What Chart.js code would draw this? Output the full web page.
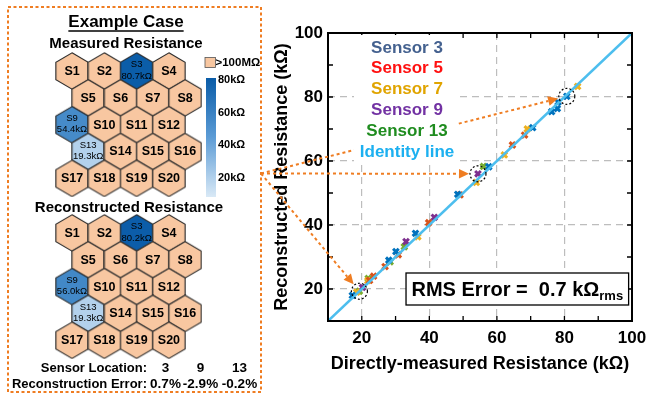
<!DOCTYPE html>
<html>
<head>
<meta charset="utf-8">
<script src="https://cdn.jsdelivr.net/npm/chart.js@4.4.0/dist/chart.umd.min.js"></script>
<style>
  html, body { margin: 0; padding: 0; background: #ffffff; }
  #wrap { position: relative; width: 649px; height: 395px; overflow: hidden; background: #ffffff; }
  #hexBox { position: absolute; left: 0; top: 0; width: 265px; height: 395px; }
  #fitBox { position: absolute; left: 250px; top: 0; width: 399px; height: 395px; }
</style>
</head>
<body>
<div id="wrap">
  <div id="hexBox"><canvas id="hexChart" width="265" height="395"></canvas></div>
  <div id="fitBox"><canvas id="fitChart" width="399" height="395"></canvas></div>
</div>
<script>
const FONT = "'Liberation Sans', Arial, Helvetica, sans-serif";

// ---- Sweep results: directly-measured (x) vs reconstructed (y), kΩ ----
const sensor3X  = [17.2, 28.0, 30.1, 35.9, 48.4, 57.6, 70.6, 76.2, 77.9, 78.1, 80.7];
const sensor3Y  = [18.0, 29.0, 31.7, 37.4, 49.6, 58.2, 70.4, 75.4, 76.4, 78.4, 80.2];
const sensor5X  = [22.3, 23.5, 26.9, 30.8, 39.8, 49.1, 64.6, 68.2];
const sensor5Y  = [22.7, 24.0, 27.0, 30.7, 40.7, 49.4, 65.0, 68.1];
const sensor7X  = [18.5, 21.8, 36.6, 53.9, 62.2, 69.0, 83.9];
const sensor7Y  = [19.0, 22.6, 36.3, 53.3, 61.9, 70.0, 83.3];
const sensor9X  = [20.2, 33.1, 41.5, 54.4];
const sensor9Y  = [20.5, 34.8, 42.4, 56.0];
const sensor13X = [19.3, 21.9, 28.4, 32.6, 56.0];
const sensor13Y = [19.3, 23.3, 28.5, 33.2, 58.3];
const seriesLabels = ['Sensor 3', 'Sensor 5', 'Sensor 7', 'Sensor 9', 'Sensor 13'];
const identityEnds = [10, 100];
const axisRange = [10, 100];
const labelledTicks = [20, 40, 60, 80, 100];
const gridTicks = [20, 40, 60, 80];
const rmsErrorK = 0.7;

// ---- Example case (hexagonal sensor array) ----
const sensorIds = [1, 2, 3, 4, 5, 6, 7, 8, 9, 10, 11, 12, 13, 14, 15, 16, 17, 18, 19, 20];
const exampleSensors = [3, 9, 13];
const measuredK = [80.7, 54.4, 19.3];
const reconstructedK = [80.2, 56.0, 19.3];
const reconErrorText = ['0.7%', '-2.9%', '-0.2%'];
const colorbarTicks = [20, 40, 60, 80];
const colorbarRange = [8, 81];

// ---- Styles ----
const markerColors = ['#0072BD', '#D95319', '#EDB120', '#7E2F8E', '#77AC30'];
const legendTextColors = ['#44618f', '#ff1010', '#e0a400', '#7232a3', '#1f8c1f', '#1cb0f0'];
const identityColor = '#4DBEEE';
const openCellColor = '#f8c7a1';
const accentOrange = '#ef7d22';
const cmapStops = [[8, [217, 233, 246]], [45, [91, 155, 213]], [81, [10, 92, 168]]];

function cmap(v) {
  const s = cmapStops;
  if (v <= s[0][0]) return `rgb(${s[0][1].join(',')})`;
  for (let i = 1; i < s.length; i++) {
    if (v <= s[i][0]) {
      const t = (v - s[i - 1][0]) / (s[i][0] - s[i - 1][0]);
      const c = s[i - 1][1].map((a, k) => Math.round(a + (s[i][1][k] - a) * t));
      return `rgb(${c.join(',')})`;
    }
  }
  return `rgb(${s[s.length - 1][1].join(',')})`;
}

// hexagon sprites used as point styles, one per fill colour
const hexCache = {};
function hexImage(fill) {
  if (hexCache[fill]) return hexCache[fill];
  const c = document.createElement('canvas');
  c.width = 34; c.height = 38;
  const g = c.getContext('2d');
  const cx = 17, cy = 19, hw = 16.15, b = 18.2, a = 8.65;
  g.beginPath();
  g.moveTo(cx, cy - b); g.lineTo(cx + hw, cy - a); g.lineTo(cx + hw, cy + a);
  g.lineTo(cx, cy + b); g.lineTo(cx - hw, cy + a); g.lineTo(cx - hw, cy - a);
  g.closePath();
  g.fillStyle = fill; g.fill();
  g.lineWidth = 1.1; g.strokeStyle = '#2a2a2a'; g.stroke();
  hexCache[fill] = c;
  return c;
}

// staggered 4-wide layout: odd rows shifted half a cell
const perRow = 4;
const rowOf = id => Math.floor((id - 1) / perRow);
const colOf = id => (id - 1) % perRow + (rowOf(id) % 2) * 0.5;
const reconRowShift = 6.03;

function gridData(values, shift) {
  return sensorIds.map(id => {
    const idx = exampleSensors.indexOf(id);
    return { x: colOf(id), y: rowOf(id) + shift, id: id, k: idx >= 0 ? values[idx] : null };
  });
}

const hexLabels = {
  id: 'hexLabels',
  afterDatasetsDraw(chart) {
    const ctx = chart.ctx;
    ctx.save();
    ctx.textAlign = 'center';
    ctx.textBaseline = 'middle';
    ctx.fillStyle = '#000';
    chart.data.datasets.forEach((ds, di) => {
      chart.getDatasetMeta(di).data.forEach((el, i) => {
        const raw = ds.data[i];
        if (raw.k === null) {
          ctx.font = `bold 12.5px ${FONT}`;
          ctx.fillText('S' + raw.id, el.x, el.y + 0.5);
        } else {
          ctx.font = `9.5px ${FONT}`;
          ctx.fillText('S' + raw.id, el.x, el.y - 6.5);
          ctx.fillText(raw.k.toFixed(1) + 'kΩ', el.x, el.y + 5);
        }
      });
    });
    ctx.restore();
  }
};

const panelDecor = {
  id: 'panelDecor',
  beforeDatasetsDraw(chart) {
    const ctx = chart.ctx;
    ctx.save();
    // dotted frame around the example case
    ctx.strokeStyle = accentOrange;
    ctx.lineWidth = 2;
    ctx.setLineDash([3, 2.5]);
    ctx.strokeRect(8, 7, 253, 385);
    ctx.setLineDash([]);
    ctx.fillStyle = '#000';
    ctx.textAlign = 'center';
    ctx.textBaseline = 'middle';
    ctx.font = `bold 17px ${FONT}`;
    ctx.fillText('Example Case', 126, 22);
    const w = ctx.measureText('Example Case').width;
    ctx.lineWidth = 1.6;
    ctx.strokeStyle = '#000';
    ctx.beginPath(); ctx.moveTo(126 - w / 2, 31); ctx.lineTo(126 + w / 2, 31); ctx.stroke();
    ctx.font = `bold 15px ${FONT}`;
    ctx.fillText('Measured Resistance', 126, 44);
    ctx.fillText('Reconstructed Resistance', 129, 208);

    // open-circuit swatch
    ctx.fillStyle = openCellColor;
    ctx.fillRect(205, 57.5, 10.5, 10);
    ctx.strokeStyle = '#555'; ctx.lineWidth = 0.8;
    ctx.strokeRect(205, 57.5, 10.5, 10);
    ctx.fillStyle = '#000';
    ctx.textAlign = 'left';
    ctx.font = `bold 11.5px ${FONT}`;
    ctx.fillText('>100MΩ', 215.5, 63);

    // colour bar
    const top = 78, bot = 197;
    const vToY = v => bot - (v - colorbarRange[0]) / (colorbarRange[1] - colorbarRange[0]) * (bot - top);
    const grad = ctx.createLinearGradient(0, bot, 0, top);
    cmapStops.forEach(s => {
      const t = (s[0] - colorbarRange[0]) / (colorbarRange[1] - colorbarRange[0]);
      grad.addColorStop(Math.min(1, Math.max(0, t)), `rgb(${s[1].join(',')})`);
    });
    ctx.fillStyle = grad;
    ctx.fillRect(206, top, 10, bot - top);
    ctx.fillStyle = '#000';
    ctx.font = `bold 11px ${FONT}`;
    colorbarTicks.forEach(v => ctx.fillText(v + 'kΩ', 218, vToY(v) + 0.5));

    // summary rows
    ctx.font = `bold 13px ${FONT}`;
    ctx.textAlign = 'right';
    ctx.fillText('Sensor Location:', 147, 368);
    ctx.fillText('Reconstruction Error:', 147, 384);
    ctx.textAlign = 'center';
    const cols = [165.5, 200.5, 239.5];
    ctx.font = `bold 13.5px ${FONT}`;
    exampleSensors.forEach((s, i) => ctx.fillText(String(s), cols[i], 368));
    reconErrorText.forEach((t, i) => ctx.fillText(t, cols[i], 384));
    ctx.restore();
  }
};

new Chart(document.getElementById('hexChart'), {
  type: 'scatter',
  data: {
    datasets: [
      { label: 'Measured', data: gridData(measuredK, 0) },
      { label: 'Reconstructed', data: gridData(reconstructedK, reconRowShift) }
    ]
  },
  options: {
    responsive: false,
    animation: false,
    devicePixelRatio: 1,
    events: [],
    layout: { padding: 0, autoPadding: false },
    elements: {
      point: {
        radius: 18,
        hoverRadius: 18,
        pointStyle: ctx => hexImage(ctx.raw && ctx.raw.k !== null ? cmap(ctx.raw.k) : openCellColor)
      }
    },
    plugins: { legend: { display: false }, tooltip: { enabled: false } },
    scales: {
      x: { type: 'linear', display: false, min: -2.23, max: 5.975 },
      y: { type: 'linear', display: false, reverse: true, min: -2.644, max: 12.067 }
    }
  },
  plugins: [panelDecor, hexLabels]
});

// ---- Reconstructed vs measured scatter ----
const seriesX = [sensor3X, sensor5X, sensor7X, sensor9X, sensor13X];
const seriesY = [sensor3Y, sensor5Y, sensor7Y, sensor9Y, sensor13Y];

const pointDatasets = seriesLabels.map((label, i) => ({
  type: 'scatter',
  label: label,
  data: seriesX[i].map((x, j) => ({ x: x, y: seriesY[i][j] })),
  pointStyle: 'crossRot',
  pointRadius: 4,
  pointBorderWidth: 3,
  borderColor: markerColors[i],
  backgroundColor: markerColors[i],
  order: 1
}));

const identityDataset = {
  type: 'line',
  label: 'Identity line',
  data: identityEnds.map(v => ({ x: v, y: v })),
  borderColor: identityColor,
  borderWidth: 2.6,
  pointRadius: 0,
  fill: false,
  order: 0
};

const ARROW_ORIGIN = { x: 11, y: 173.5 };

function drawArrow(ctx, x0, y0, x1, y1) {
  const dx = x1 - x0, dy = y1 - y0, len = Math.hypot(dx, dy);
  const ux = dx / len, uy = dy / len;
  const head = 10, half = 4.8;
  const bx = x1 - ux * head, by = y1 - uy * head;
  ctx.strokeStyle = accentOrange;
  ctx.lineWidth = 2;
  ctx.setLineDash([3, 3]);
  ctx.beginPath(); ctx.moveTo(x0, y0); ctx.lineTo(bx, by); ctx.stroke();
  ctx.setLineDash([]);
  ctx.fillStyle = accentOrange;
  ctx.beginPath();
  ctx.moveTo(x1, y1);
  ctx.lineTo(bx - uy * half, by + ux * half);
  ctx.lineTo(bx + uy * half, by - ux * half);
  ctx.closePath(); ctx.fill();
}

const fitDecor = {
  id: 'fitDecor',
  afterDatasetsDraw(chart) {
    const { ctx, chartArea: a, scales: { x, y } } = chart;
    ctx.save();
    // inward ticks on all four sides
    ctx.strokeStyle = '#000';
    ctx.lineWidth = 1.3;
    const tl = 5;
    x.ticks.forEach(t => {
      const px = x.getPixelForValue(t.value);
      ctx.beginPath();
      ctx.moveTo(px, a.bottom); ctx.lineTo(px, a.bottom - tl);
      ctx.moveTo(px, a.top); ctx.lineTo(px, a.top + tl);
      ctx.stroke();
    });
    y.ticks.forEach(t => {
      const py = y.getPixelForValue(t.value);
      ctx.beginPath();
      ctx.moveTo(a.left, py); ctx.lineTo(a.left + tl, py);
      ctx.moveTo(a.right, py); ctx.lineTo(a.right - tl, py);
      ctx.stroke();
    });
    // axes box
    ctx.lineWidth = 2;
    ctx.strokeRect(a.left, a.top, a.right - a.left, a.bottom - a.top);

    // dashed rings around the example-case points
    ctx.lineWidth = 1.2;
    ctx.setLineDash([2, 2]);
    ctx.strokeStyle = '#000';
    measuredK.forEach((m, i) => {
      ctx.beginPath();
      ctx.arc(x.getPixelForValue(m), y.getPixelForValue(reconstructedK[i]), 8, 0, Math.PI * 2);
      ctx.stroke();
    });
    ctx.restore();
  },
  afterDraw(chart) {
    const { ctx, chartArea: a, scales: { x, y } } = chart;
    ctx.save();
    // call-outs from the example case
    measuredK.forEach((m, i) => {
      const cx = x.getPixelForValue(m), cy = y.getPixelForValue(reconstructedK[i]);
      const dx = cx - ARROW_ORIGIN.x, dy = cy - ARROW_ORIGIN.y, d = Math.hypot(dx, dy);
      const r = 9;
      drawArrow(ctx, ARROW_ORIGIN.x, ARROW_ORIGIN.y, cx - dx / d * r, cy - dy / d * r);
    });

    // legend (text only, on white)
    const lx = a.left + 79, ly0 = a.top + 15, step = 20.8;
    ctx.fillStyle = '#ffffff';
    ctx.fillRect(a.left + 26, a.top + 2, 103, 128);
    const names = seriesLabels.concat(['Identity line']);
    ctx.font = `bold 17px ${FONT}`;
    ctx.textAlign = 'center';
    ctx.textBaseline = 'middle';
    names.forEach((n, i) => {
      ctx.fillStyle = legendTextColors[i];
      ctx.fillText(n, lx, ly0 + i * step);
    });

    // RMS annotation box (in data units)
    const bx0 = x.getPixelForValue(33.1), bx1 = x.getPixelForValue(99);
    const by0 = y.getPixelForValue(25), by1 = y.getPixelForValue(15);
    ctx.fillStyle = '#ffffff';
    ctx.fillRect(bx0, by0, bx1 - bx0, by1 - by0);
    ctx.strokeStyle = '#000';
    ctx.lineWidth = 1.3;
    ctx.strokeRect(bx0, by0, bx1 - bx0, by1 - by0);
    const main = `RMS Error =  ${rmsErrorK} kΩ`;
    ctx.font = `bold 20px ${FONT}`;
    const wMain = ctx.measureText(main).width;
    ctx.font = `bold 13px ${FONT}`;
    const wSub = ctx.measureText('rms').width;
    const startX = (bx0 + bx1) / 2 - (wMain + wSub) / 2;
    const base = (by0 + by1) / 2 + 7;
    ctx.textAlign = 'left';
    ctx.textBaseline = 'alphabetic';
    ctx.fillStyle = '#000';
    ctx.font = `bold 20px ${FONT}`;
    ctx.fillText(main, startX, base);
    ctx.font = `bold 13px ${FONT}`;
    ctx.fillText('rms', startX + wMain, base + 3.5);
    ctx.restore();
  }
};

const tickFont = { family: FONT, size: 17, weight: 'bold' };
const titleFont = { family: FONT, size: 18, weight: 'bold' };
const gridColor = c => (c.tick && gridTicks.includes(c.tick.value)) ? '#bdbdbd' : 'rgba(0,0,0,0)';

new Chart(document.getElementById('fitChart'), {
  data: { datasets: [identityDataset].concat(pointDatasets) },
  options: {
    responsive: false,
    animation: false,
    devicePixelRatio: 1,
    events: [],
    layout: { padding: { top: 33, right: 17, left: 0, bottom: 0 }, autoPadding: false },
    plugins: { legend: { display: false }, tooltip: { enabled: false } },
    scales: {
      x: {
        type: 'linear',
        min: axisRange[0], max: axisRange[1],
        afterFit(s) { s.height = 74; s.paddingLeft = 0; s.paddingRight = 0; },
        ticks: {
          stepSize: 10, autoSkip: false, maxRotation: 0, padding: 7, color: '#000', font: tickFont,
          callback: v => labelledTicks.includes(v) ? String(v) : ''
        },
        grid: { color: gridColor, lineWidth: 1.2, drawTicks: false },
        border: { display: false, dash: [7, 5] },
        title: {
          display: true, text: 'Directly-measured Resistance (kΩ)', color: '#000', font: titleFont,
          padding: { top: 0, bottom: 20 }
        }
      },
      y: {
        type: 'linear',
        min: axisRange[0], max: axisRange[1],
        afterFit(s) { s.width = 78; s.paddingTop = 0; s.paddingBottom = 0; },
        ticks: {
          stepSize: 10, autoSkip: false, padding: 5, color: '#000', font: tickFont,
          callback: v => labelledTicks.includes(v) ? String(v) : ''
        },
        grid: { color: gridColor, lineWidth: 1.2, drawTicks: false },
        border: { display: false, dash: [7, 5] },
        title: {
          display: true, text: 'Reconstructed Resistance (kΩ)', color: '#000', font: titleFont,
          padding: { top: 21, bottom: 0 }
        }
      }
    }
  },
  plugins: [fitDecor]
});
</script>
</body>
</html>
